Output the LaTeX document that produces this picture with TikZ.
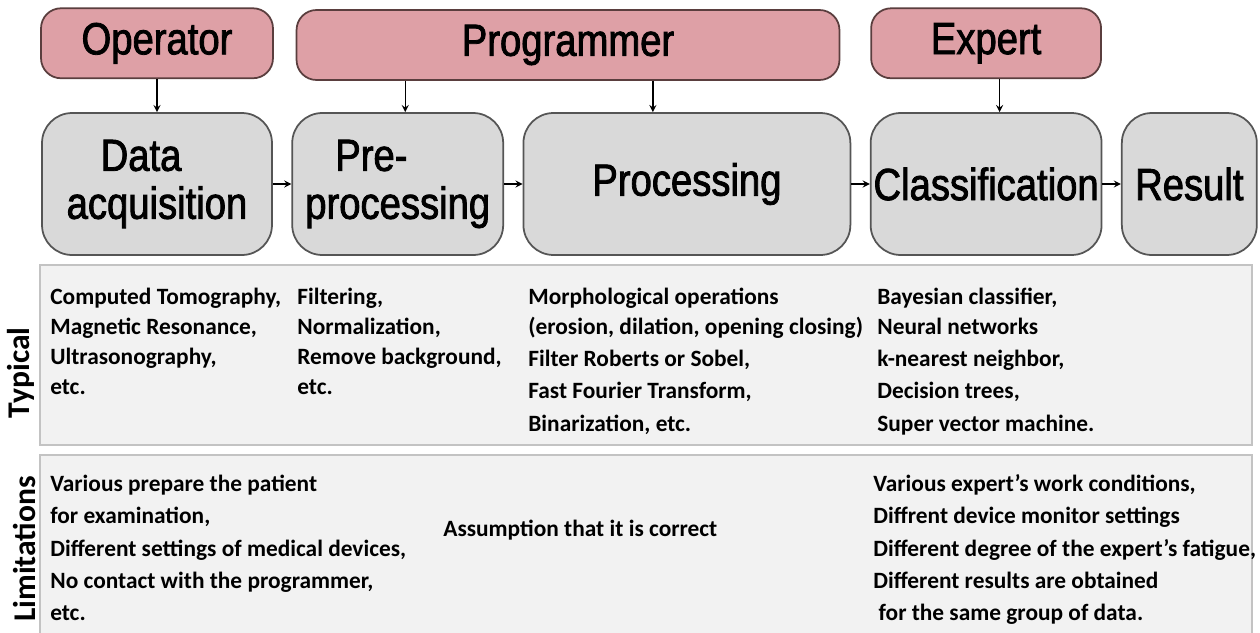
\documentclass[tikz,border=0pt]{standalone}
\usepackage{fontspec}
\setmainfont{Carlito}
\newfontfamily\boxfont[FakeStretch=0.85, FakeBold=1.8]{Liberation Sans}
\usepackage{tikz}
\usetikzlibrary{arrows, positioning}
\definecolor{rolefill}{RGB}{222,160,166}
\definecolor{roledraw}{RGB}{90,62,62}
\definecolor{stagefill}{RGB}{217,217,217}
\definecolor{stagedraw}{RGB}{85,85,85}
\definecolor{panelfill}{RGB}{242,242,242}
\definecolor{paneldraw}{RGB}{195,195,195}
\tikzstyle{role}     = [rectangle, rounded corners=0.4cm, minimum height=1.4cm, text centered, draw=roledraw, line width=1pt, fill=rolefill, inner sep=0pt, font=\boxfont\fontsize{25.6}{27.3}\selectfont]
\tikzstyle{stage}    = [rectangle, rounded corners=0.6cm, minimum height=2.84cm, align=left, draw=stagedraw, line width=1pt, fill=stagefill, inner sep=0pt, font=\boxfont\fontsize{25.6}{27.3}\selectfont]
\tikzstyle{panel}    = [rectangle, minimum width=24.24cm, draw=paneldraw, fill=panelfill, line width=1pt]
\tikzstyle{info}     = [anchor=base west, align=left, inner sep=0pt, font=\bfseries\fontsize{13.3}{17.07}\selectfont]
\tikzstyle{rowlabel} = [rotate=90, inner sep=0pt, font=\bfseries\fontsize{18}{20}\selectfont]
\tikzstyle{arrow}    = [line width=0.8pt, ->, >=stealth]

\begin{document}
\begin{tikzpicture}[x=0.02cm, y=-0.02cm, node distance=0.37cm]
    \useasboundingbox (0,0) rectangle (1260,632);

    % stages of the analysis
    \node (acq) [stage, minimum width=4.6cm] at (157,184) {\hspace*{0.68cm}Data\\acquisition};
    \node (pre) [stage, minimum width=4.22cm, right=of acq] {\hspace*{0.6cm}Pre-\\processing};
    \node (proc)[stage, minimum width=6.54cm, right=of pre] {Processing};
    \node (cls) [stage, minimum width=4.62cm, right=of proc] {Classification};
    \node (res) [stage, minimum width=2.7cm,  right=of cls] {Result};

    % people responsible
    \node (op)   [role, minimum width=4.64cm, above=0.66cm of acq] {Operator};
    \node (prog) [role, minimum width=10.86cm] at (568,45) {Programmer};
    \node (exp)  [role, minimum width=4.6cm,  above=0.66cm of cls] {Expert};

    \draw [arrow] (acq)  -- (pre);
    \draw [arrow] (pre)  -- (proc);
    \draw [arrow] (proc) -- (cls);
    \draw [arrow] (cls)  -- (res);

    \draw [arrow] (op) -- (acq);
    \draw [arrow] ([xshift=0.15cm]pre.north |- prog.south) -- ([xshift=0.15cm]pre.north);
    \draw [arrow] ([xshift=-0.68cm]proc.north |- prog.south) -- ([xshift=-0.68cm]proc.north);
    \draw [arrow] ([xshift=0.27cm]exp.south) -- ([xshift=0.27cm]cls.north);

    % table below (base = baseline of the last line)
    \node (typ) [panel, minimum height=3.6cm] at (646,355) {};
    \node (lim) [panel, minimum height=3.8cm] at (646,550) {};
    \node (typl) [rowlabel] at (21,373) {Typical};
    \node (liml) [rowlabel] at (24,549) {Limitations};

    \node (t1) [info] at (50,394)  {Computed Tomography,\\Magnetic Resonance,\\Ultrasonography,\\etc.};
    \node (t2) [info] at (297,394) {Filtering,\\Normalization,\\Remove background,\\etc.};
    \node (t3) [info] at (528,431) {Morphological operations\\(erosion, dilation, opening closing)\\[1.5pt]Filter Roberts or Sobel,\\[1pt]Fast Fourier Transform,\\[1.5pt]Binarization, etc.};
    \node (t4) [info] at (877,431) {Bayesian classifier,\\Neural networks\\[1.5pt]k-nearest neighbor,\\[1pt]Decision trees,\\[1.5pt]Super vector machine.};

    \node (l1) [info] at (50,620)  {Various prepare the patient\\[1pt]for examination,\\[2pt]Different settings of medical devices,\\[1pt]No contact with the programmer,\\[1pt]etc.};
    \node (l2) [info] at (443,536) {Assumption that it is correct};
    \node (l3) [info] at (873,620) {Various expert's work conditions,\\[1pt]Diffrent device monitor settings\\[2pt]Different degree of the expert's fatigue,\\[1pt]Different results are obtained\\[1pt]\ for the same group of data.};
\end{tikzpicture}
\end{document}
